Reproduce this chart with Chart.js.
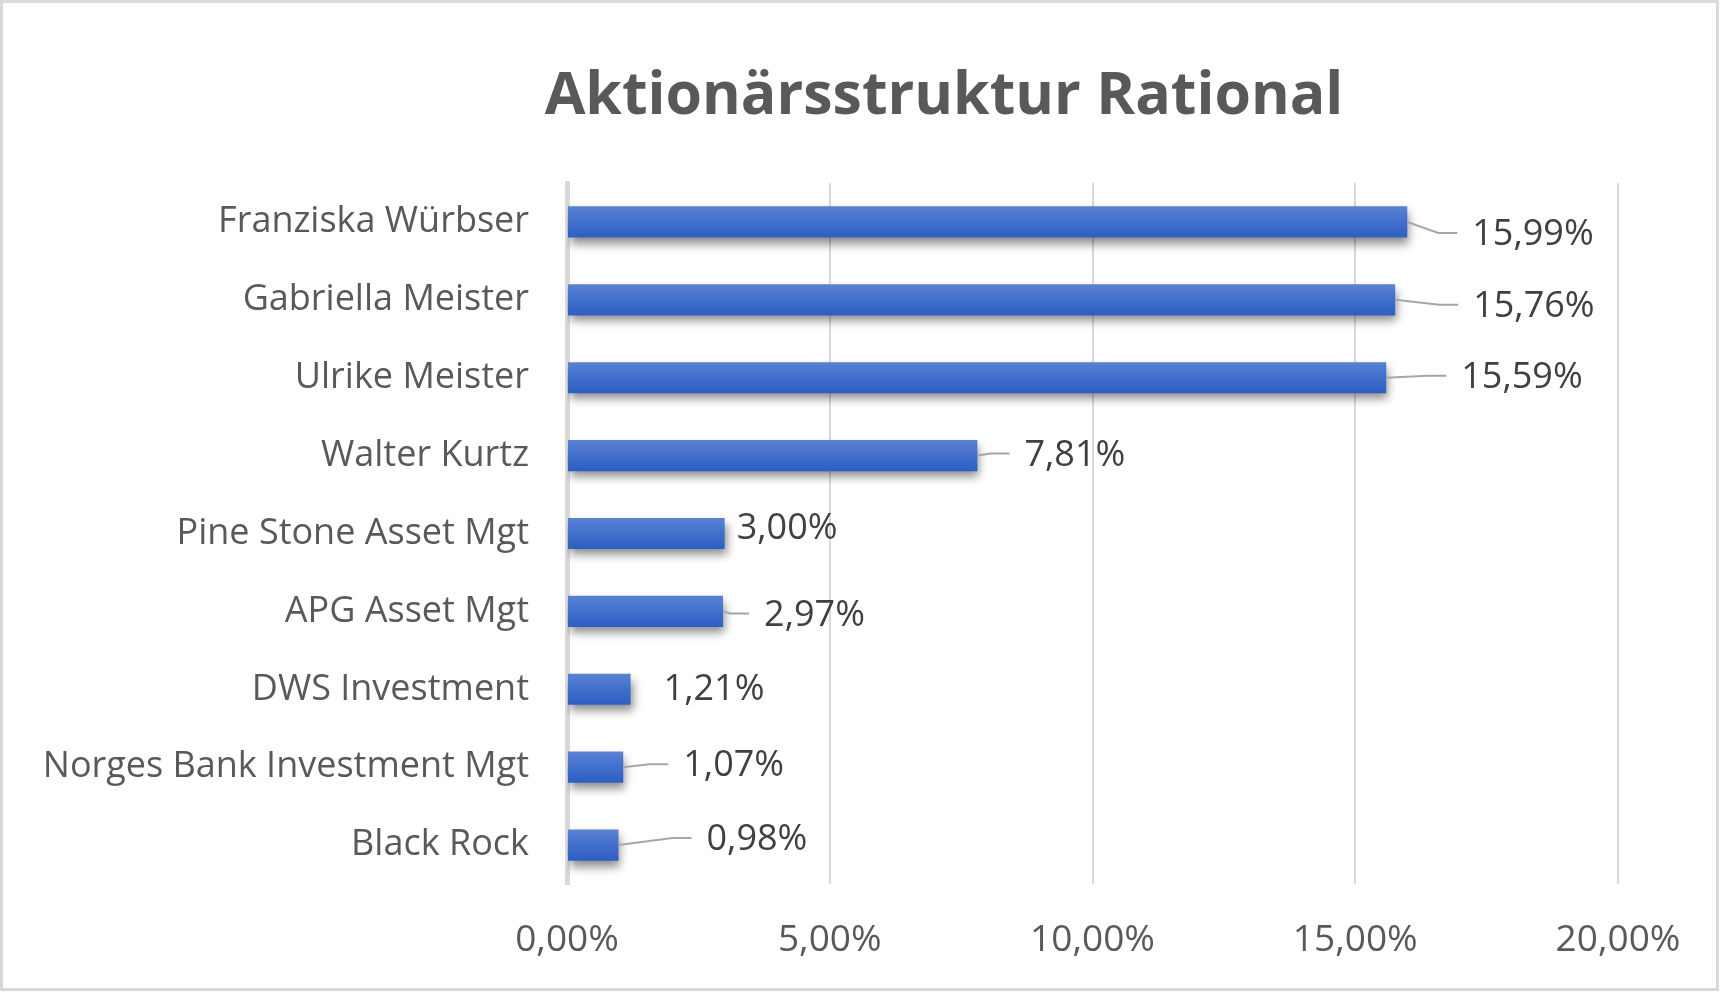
<!DOCTYPE html>
<html>
<head>
<meta charset="utf-8">
<script src="https://cdn.jsdelivr.net/npm/chart.js@4.4.4/dist/chart.umd.min.js"></script>
<style>
  html, body { margin: 0; padding: 0; background: #fff; }
  #wrap { position: relative; width: 1722px; height: 993px; }
  #chart { position: absolute; left: 0; top: 0; }
  #frame { position: absolute; left: 0; top: 0; width: 1719px; height: 991px; box-sizing: border-box;
           border: 3px solid #d9d9d9; pointer-events: none; }
</style>
</head>
<body>
<div id="wrap">
  <canvas id="chart" width="1722" height="993"></canvas>
  <div id="frame"></div>
</div>
<script>
/* ── Data ─────────────────────────────────────────────────────────── */
const TITLE      = "Aktionärsstruktur Rational";
const holders    = ["Franziska Würbser", "Gabriella Meister", "Ulrike Meister", "Walter Kurtz",
                    "Pine Stone Asset Mgt", "APG Asset Mgt", "DWS Investment",
                    "Norges Bank Investment Mgt", "Black Rock"];
const shares     = [15.99, 15.76, 15.59, 7.81, 3.00, 2.97, 1.21, 1.07, 0.98];
const axisTicks  = [0, 5, 10, 15, 20];

// how far each data label sits from its bar end (px), as Excel placed them
const labelNudge = [[65, 11], [78, 5], [75, -2], [47, -2], [12, -7], [41, 2], [33, -2], [60, -3], [88, -7]];

const FONT = "'Open Sans', 'Noto Sans', sans-serif";
const fmt  = v => v.toFixed(2).replace(".", ",") + "%";

/* ── Title (Excel centres it on the whole chart, not the plot) ──────── */
const titlePlugin = {
  id: "titleText",
  afterDraw(chart) {
    const ctx = chart.ctx;
    ctx.save();
    ctx.font = "bold 59px " + FONT;
    ctx.fillStyle = "#595959";
    ctx.textAlign = "center";
    ctx.textBaseline = "middle";
    ctx.fillText(TITLE, 944, 97);
    ctx.restore();
  }
};

/* ── Bar gradient + shadow ────────────────────────────────────────── */
const barStyle = {
  id: "barStyle",
  beforeDatasetsDraw(chart) {
    const ctx = chart.ctx;
    chart.getDatasetMeta(0).data.forEach(bar => {
      const g = ctx.createLinearGradient(0, bar.y - bar.height / 2, 0, bar.y + bar.height / 2);
      g.addColorStop(0, "#5b82d3");
      g.addColorStop(0.5, "#416fcc");
      g.addColorStop(1, "#2c5fc3");
      bar.options.backgroundColor = g;
    });
    ctx.save();
    ctx.shadowColor = "rgba(0,0,0,0.45)";
    ctx.shadowBlur = 9;
    ctx.shadowOffsetX = 2;
    ctx.shadowOffsetY = 6;
  },
  afterDatasetsDraw(chart) { chart.ctx.restore(); }
};

/* ── Data labels with leader lines ────────────────────────────────── */
const dataLabels = {
  id: "dataLabels",
  afterDatasetsDraw(chart) {
    const ctx = chart.ctx;
    ctx.save();
    ctx.shadowColor = "transparent";
    ctx.font = "36px " + FONT;
    ctx.fillStyle = "#404040";
    ctx.textAlign = "left";
    ctx.textBaseline = "middle";
    chart.getDatasetMeta(0).data.forEach((bar, i) => {
      const [dx, dy] = labelNudge[i];
      const lx = bar.x + dx, ly = bar.y + dy;
      if (dx > 36) {
        ctx.beginPath();
        ctx.strokeStyle = "#a6a6a6";
        ctx.lineWidth = 2;
        ctx.moveTo(bar.x, bar.y);
        ctx.lineTo(lx - 34, ly);
        ctx.lineTo(lx - 15, ly);
        ctx.stroke();
      }
      ctx.fillText(fmt(shares[i]), lx, ly + 2);
    });
    ctx.restore();
  }
};

/* ── Chart ────────────────────────────────────────────────────────── */
new Chart(document.getElementById("chart"), {
  type: "bar",
  data: {
    labels: holders,
    datasets: [{ data: shares, backgroundColor: () => "#416fcc", borderWidth: 0,
                 barPercentage: 0.4, categoryPercentage: 1 }]
  },
  options: {
    indexAxis: "y",
    responsive: false,
    animation: false,
    layout: { padding: { left: 0, right: 104, top: 183, bottom: 0 } },
    plugins: {
      legend: { display: false },
      tooltip: { enabled: false },
      title: { display: false }
    },
    scales: {
      x: {
        min: 0, max: 20,
        afterBuildTicks: s => { s.ticks = axisTicks.map(v => ({ value: v })); },
        afterFit: s => { s.height = 109; },
        grid: { color: "#d9d9d9", lineWidth: 2, drawTicks: false },
        border: { display: false },
        ticks: { callback: v => fmt(v), color: "#595959", padding: 34,
                  font: { family: FONT, size: 37 } }
      },
      y: {
        afterFit: s => { s.width = 567; },
        grid: { display: false, drawTicks: false },
        border: { display: true, color: "#d9d9d9", width: 5 },
        ticks: { color: "#595959", padding: 38, font: { family: FONT, size: 36 } }
      }
    }
  },
  plugins: [barStyle, dataLabels, titlePlugin]
});
</script>
</body>
</html>
